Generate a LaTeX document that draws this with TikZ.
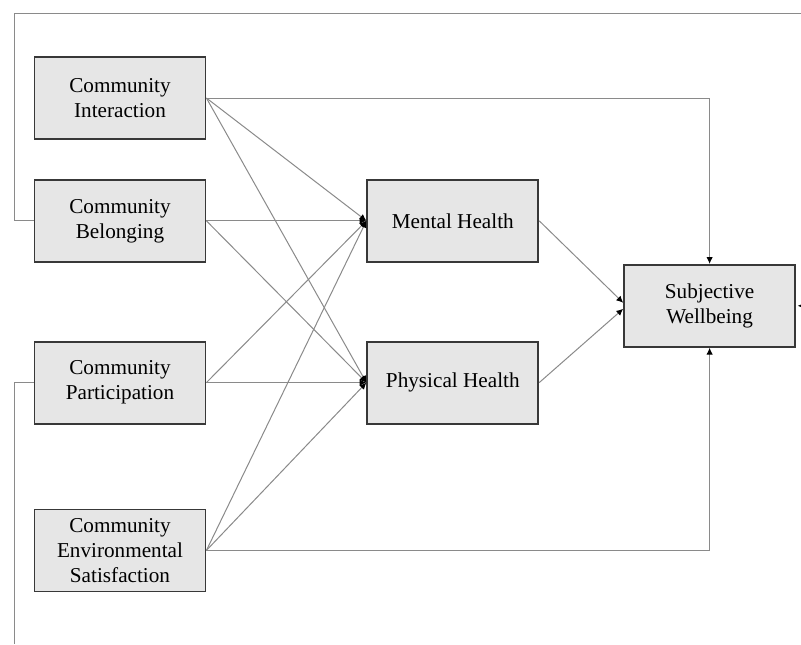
\documentclass[tikz,border=0pt]{standalone}
\usepackage{fontspec}
\setmainfont{Liberation Serif}
\usetikzlibrary{arrows.meta, positioning, calc}
\definecolor{boxfill}{HTML}{E6E6E6}
\definecolor{boxline}{HTML}{383838}
\definecolor{linkgray}{HTML}{8A8A8A}
\tikzstyle{factor} = [rectangle, minimum width=85.5pt, minimum height=41pt, inner sep=2pt, align=center, text centered, draw=boxline, line width=0.9pt, fill=boxfill, font=\fontsize{10.6}{12.5}\selectfont]
\tikzstyle{link} = [draw=linkgray, line width=0.5pt]
\tikzstyle{arrow} = [link, -{Latex[black,length=3.4pt,width=3.2pt]}]
\tikzstyle{backarrow} = [link, {Latex[black,length=3.4pt,width=3.2pt]}-]

\begin{document}
\begin{tikzpicture}
            \useasboundingbox (0,0) rectangle (400.5pt,-322pt);
            % Predictors
            \node (inter) [factor] at (60pt,-49pt) {Community\\Interaction};
            \node (belong) [factor, below=19.5pt of inter] {Community\\Belonging};
            \node (partic) [factor, below=39pt of belong] {Community\\Participation};
            \node (envsat) [factor, below=42pt of partic] {Community\\Environmental\\Satisfaction};
            
            % Mediators
            \node (mental) [factor, right=80pt of belong] {Mental Health};
            \node (physical) [factor, right=80pt of partic] {Physical Health};
            
            % Outcome
            \node (swb) [factor, right=42pt of mental, yshift=-42.5pt] {Subjective\\Wellbeing};
            
            % Frame ends
            \coordinate (topcorner) at (7.25pt,-6.5pt);
            \coordinate (topend) at (400.5pt,-6.5pt);
            \coordinate (botend) at (7.25pt,-322pt);
            \coordinate (rightend) at ($(swb.east)+(4.5pt,0)$);
            
            % Paths to mediators
            \foreach \src in {inter, belong, partic, envsat} {
                \draw [arrow] (\src.east) -- (mental.west);
                \draw [arrow] (\src.east) -- (physical.west);
            }
            \draw [arrow] (mental.east) -- ([yshift=1.5pt]swb.west);
            \draw [arrow] (physical.east) -- ([yshift=-1.5pt]swb.west);
            
            % Direct paths
            \draw [arrow] (inter.east) -| (swb.north);
            \draw [arrow] (envsat.east) -| (swb.south);
            
            % Lines running off the frame
            \draw [link] (belong.west) -| (topcorner) -- (topend);
            \draw [link] (partic.west) -| (botend);
            \draw [backarrow] ([xshift=0.8pt]swb.east) -- (rightend);
        \end{tikzpicture}
\end{document}
